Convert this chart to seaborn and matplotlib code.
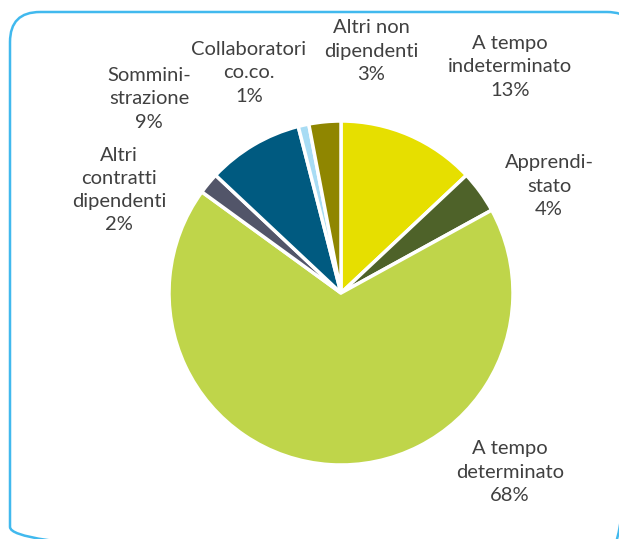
import matplotlib
matplotlib.use("Agg")
import matplotlib.pyplot as plt
import seaborn as sns
from matplotlib.patches import FancyBboxPatch

# Dati
categorie = ["A tempo\nindeterminato", "Apprendi-\nstato", "A tempo\ndeterminato",
             "Altri\ncontratti\ndipendenti", "Sommini-\nstrazione",
             "Collaboratori\nco.co.", "Altri non\ndipendenti"]
percentuali = [13, 4, 68, 2, 9, 1, 3]
colori = ["#E6DF00", "#4E6229", "#BFD54A", "#525569", "#005A80", "#A8DCF4", "#8F8600"]

# posizioni delle etichette (centro, in pixel dall'alto a sinistra)
pos_etichette = [(510, 67), (549, 186), (510, 472), (119, 190), (149, 99), (249, 73), (371, 51)]

sns.set_theme(style="white")
plt.rcParams['font.family'] = ['Lato', 'DejaVu Sans']

W, H = 619, 539
fig = plt.figure(figsize=(W / 100, H / 100), dpi=100)

# sfondo con cornice arrotondata, coordinate in pixel
bg = fig.add_axes([0, 0, 1, 1], zorder=0)
bg.set_xlim(0, W)
bg.set_ylim(H, 0)
bg.axis("off")
bg.add_patch(FancyBboxPatch((10, 12), 627, 545,
                            boxstyle="round,pad=0,rounding_size=30",
                            facecolor="none", edgecolor="#41B9EE",
                            linewidth=1.8, clip_on=False))

cx, cy, r = 341, 293, 172
ax = fig.add_axes([(cx - r) / W, (H - cy - r) / H, 2 * r / W, 2 * r / H], zorder=1)
ax.pie(percentuali, colors=colori, startangle=90, counterclock=False,
       wedgeprops=dict(edgecolor="white", linewidth=2.5))
ax.set_xlim(-1, 1)
ax.set_ylim(-1, 1)
ax.set_aspect("equal")
ax.axis("off")

for nome, val, (px, py) in zip(categorie, percentuali, pos_etichette):
    bg.text(px, py, f"{nome}\n{val}%", ha="center", va="center",
            fontsize=14.5, color="#404040", linespacing=1.45)

plt.savefig("out.png", dpi=100)
